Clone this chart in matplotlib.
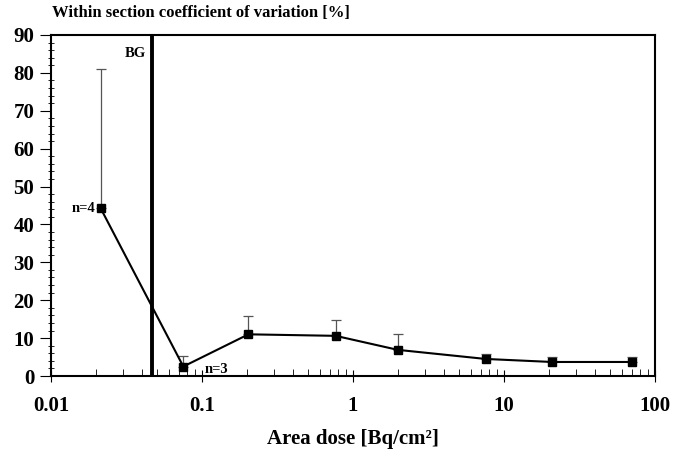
import numpy as np
import matplotlib.pyplot as plt
from matplotlib.ticker import MultipleLocator, NullFormatter

plt.rcParams['font.family'] = ['Liberation Serif', 'DejaVu Serif']
plt.rcParams['font.weight'] = 'bold'

dose = [0.0213, 0.0752, 0.203, 0.767, 1.98, 7.56, 20.8, 70.1]
cv = [44.3, 2.5, 11.0, 10.6, 6.9, 4.5, 3.7, 3.7]
cv_err = [36.6, 2.9, 4.9, 4.3, 4.2, 1.3, 1.4, 1.4]
bg_dose = 0.0464

fig = plt.figure(figsize=(6.74, 4.49), dpi=100)
ax = fig.add_axes([51/674, 1-376/449, 604/674, 341/449])

# only upper error bars
ax.errorbar(dose, cv, yerr=[np.zeros(len(cv_err)), cv_err], fmt='none',
            ecolor='#555555', elinewidth=0.9, capsize=3.5, capthick=0.9, zorder=2)
ax.plot(dose, cv, color='black', lw=1.5, marker='s', ms=6, zorder=3)
ax.axvline(bg_dose, color='black', lw=2.8, zorder=1)

ax.set_xscale('log')
ax.set_xlim(0.01, 100)
ax.set_ylim(0, 90)
ax.yaxis.set_major_locator(MultipleLocator(10))
ax.yaxis.set_minor_locator(MultipleLocator(2))
ax.set_xticks([0.01, 0.1, 1, 10, 100])
ax.set_xticklabels(['0.01', '0.1', '1', '10', '100'])
ax.xaxis.set_minor_formatter(NullFormatter())

ax.tick_params(axis='x', which='major', direction='inout', length=9, labelsize=15, pad=10)
ax.tick_params(axis='x', which='minor', direction='in', length=5)
ax.tick_params(axis='y', which='major', direction='out', length=8, labelsize=15, pad=4)
ax.tick_params(axis='y', which='minor', direction='inout', length=5)
for s in ax.spines.values():
    s.set_linewidth(1.5)

ax.text(0.0425, 85, 'BG', ha='right', va='center', fontsize=10.5, fontweight='bold')
ax.text(0.0198, 44.3, 'n=4', ha='right', va='center', fontsize=10.5, fontweight='bold')
ax.text(0.104, 1.8, 'n=3', ha='left', va='center', fontsize=10.5, fontweight='bold')

fig.text(52/674, 1-13/449, 'Within section coefficient of variation [%]',
         ha='left', va='center', fontsize=12, fontweight='bold')
fig.text(353/674, 1-439/449, 'Area dose [Bq/cm²]',
         ha='center', va='center', fontsize=15, fontweight='bold')

fig.savefig('out.png', dpi=100)
